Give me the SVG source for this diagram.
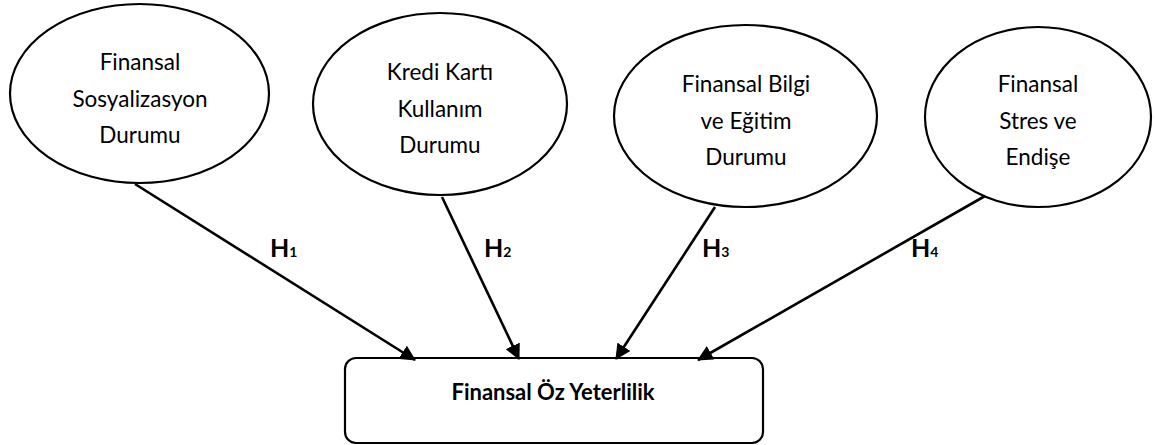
<svg xmlns="http://www.w3.org/2000/svg" width="1155" height="445" viewBox="0 0 1155 445">
<style>
.node ellipse{fill:#fff;stroke:#000;stroke-width:2.2}
.box{fill:#fff;stroke:#000;stroke-width:2.2}
.t{font-family:Lato,"Liberation Sans",sans-serif;font-size:22.5px;fill:#000;text-anchor:middle}
.b{font-family:Lato,"Liberation Sans",sans-serif;font-weight:bold;fill:#000}
.edge{stroke:#000;stroke-width:2.6;fill:none;marker-end:url(#ah)}
</style>
<defs>
<marker id="ah" markerWidth="6" markerHeight="6" refX="5.6" refY="3" orient="auto" markerUnits="strokeWidth" viewBox="0 0 6 6">
<path d="M0,0 L6,3 L0,6 Z" fill="#000"/>
</marker>
</defs>
<rect width="1155" height="445" fill="#fff"/>
<g id="n1" class="node">
<ellipse cx="139.5" cy="93.5" rx="129.5" ry="89.5"/>
<text class="t" x="140" y="70">Finansal</text>
<text class="t" x="140" y="107">Sosyalizasyon</text>
<text class="t" x="140" y="143">Durumu</text>
</g>
<g id="n2" class="node">
<ellipse cx="440" cy="104" rx="127" ry="91"/>
<text class="t" x="440" y="80">Kredi Kartı</text>
<text class="t" x="440" y="117">Kullanım</text>
<text class="t" x="440" y="153">Durumu</text>
</g>
<g id="n3" class="node">
<ellipse cx="745.5" cy="116" rx="131.5" ry="91"/>
<text class="t" x="746" y="92">Finansal Bilgi</text>
<text class="t" x="746" y="129">ve Eğitim</text>
<text class="t" x="746" y="165">Durumu</text>
</g>
<g id="n4" class="node">
<ellipse cx="1038" cy="117" rx="113" ry="90"/>
<text class="t" x="1038" y="92">Finansal</text>
<text class="t" x="1038" y="129">Stres ve</text>
<text class="t" x="1038" y="165">Endişe</text>
</g>
<g id="target">
<rect class="box" x="345" y="358" width="418" height="85" rx="11"/>
<text class="b" x="553" y="400" font-size="22" text-anchor="middle">Finansal Öz Yeterlilik</text>
</g>
<g id="connectors">
<line class="edge" x1="135" y1="184" x2="415" y2="360"/>
<line class="edge" x1="442" y1="197" x2="519" y2="359"/>
<line class="edge" x1="715" y1="207" x2="616" y2="359"/>
<line class="edge" x1="985" y1="196" x2="698" y2="360"/>
<text class="b" x="270" y="257" font-size="25">H<tspan font-size="14">1</tspan></text>
<text class="b" x="484" y="257" font-size="25">H<tspan font-size="14">2</tspan></text>
<text class="b" x="702" y="257" font-size="25">H<tspan font-size="14">3</tspan></text>
<text class="b" x="911" y="257" font-size="25">H<tspan font-size="14">4</tspan></text>
</g>
</svg>
